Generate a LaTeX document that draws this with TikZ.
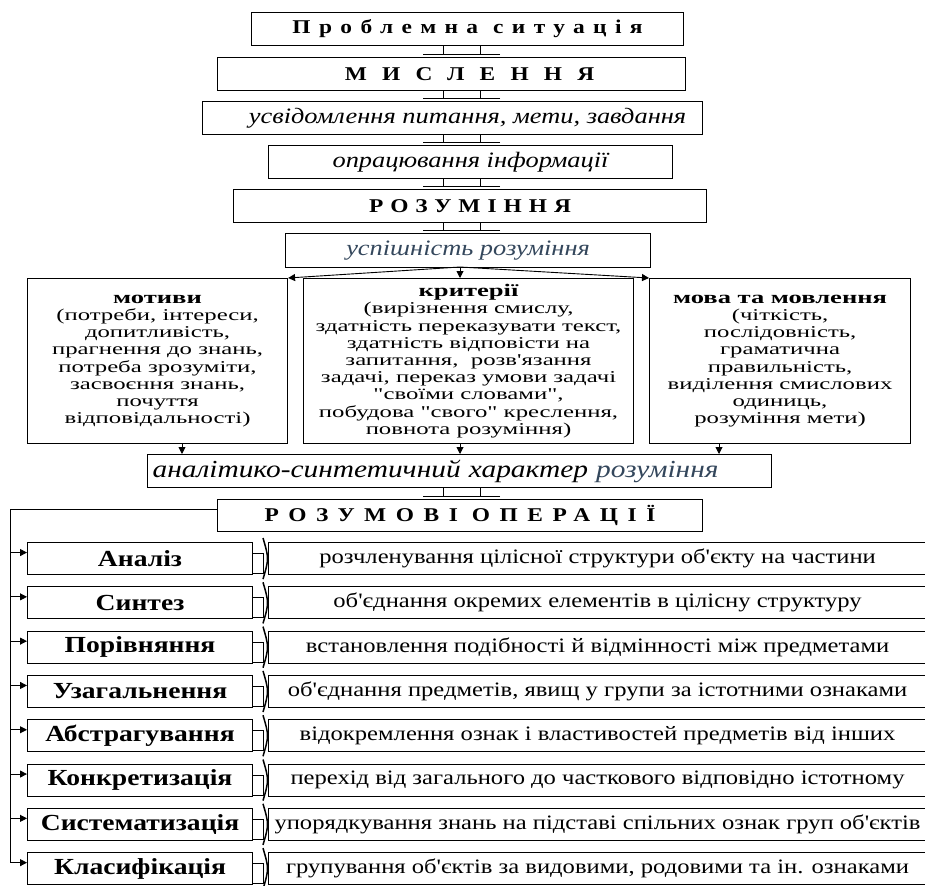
\documentclass[tikz,border=0pt]{standalone}
\usepackage{fontspec}
\setmainfont{Liberation Serif}[FakeStretch=1.2,Ligatures=TeXOff]
\newfontfamily\colfont{Liberation Serif}[FakeStretch=1.5,Ligatures=TeXOff]
\usepackage{tikz}
\usepackage{xcolor}
\usetikzlibrary{arrows.meta,positioning,calc}
\definecolor{slatetext}{HTML}{34475C}

\tikzset{
  box/.style={draw,line width=1.1pt,inner sep=0pt,anchor=north west,align=center,
    font=\fontsize{20.5}{17.2}\selectfont},
  column/.style={box,minimum height=165,font=\colfont\fontsize{16.5}{17.2}\selectfont},
  title/.style={font=\fontsize{19.5}{19}\selectfont},
  ital/.style={font=\fontsize{22}{20}\selectfont\itshape},
  oplabel/.style={box,minimum width=225,minimum height=32,font=\fontsize{23}{23}\selectfont\bfseries},
  arr/.style={-{Triangle[length=7pt,width=7pt]},line width=0.9pt},
  tee/.style={-{Bar[width=40pt,line width=1pt]},line width=1pt,shorten >=2pt},
}
\newcommand{\spreadbold}[1]{\bfseries\addfontfeatures{LetterSpace=#1}}
\newcommand{\head}[1]{{\fontsize{17.7}{17.2}\selectfont\bfseries #1}}

\begin{document}
\begin{tikzpicture}[x=1pt,y=-1pt]
\useasboundingbox (0,0) rectangle (925,885);
\clip (0,0) rectangle (925,885);
\coordinate (la) at (443,0);
\coordinate (lb) at (480,0);
% central column
\node[box,title,minimum width=432,minimum height=33] (prob) at (251,12) {\spreadbold{43}Проблемна\hspace{15pt}ситуація};
\node[box,title,minimum width=468,minimum height=33] (mysl) at (217,57) {\hspace*{36pt}\spreadbold{78}МИСЛЕННЯ};
\node[box,ital,minimum width=500,minimum height=33] (usv) at (202,101) {\hspace*{30pt}усвідомлення питання, мети, завдання};
\node[box,ital,minimum width=404,minimum height=33] (opr) at (268,145) {опрацювання інформації};
\node[box,title,minimum width=473,minimum height=33] (rozum) at (233,189) {\spreadbold{36}РОЗУМІННЯ};
\node[box,ital,minimum width=365,minimum height=34] (usp) at (285,233) {\color{slatetext}успішність розуміння};
% three columns
\node[column,minimum width=260] (motyvy) at (27,278)
  {\head{мотиви}\\(потреби, інтереси,\\допитливість,\\прагнення до знань,\\потреба зрозуміти,\\засвоєння знань,\\почуття\\відповідальності)};
\node[column,minimum width=330] (kryt) at (303,278)
  {\head{критерії}\\(вирізнення смислу,\\здатність переказувати текст,\\здатність відповісти на\\запитання,\ \ розв'язання\\задачі, переказ умови задачі\\"своїми словами",\\побудова "свого" креслення,\\повнота розуміння)};
\node[column,minimum width=261] (mova) at (649,278)
  {\head{мова та мовлення}\\(чіткість,\\послідовність,\\граматична\\правильність,\\виділення смислових\\одиниць,\\розуміння мети)};
\node[box,minimum width=624,minimum height=33,text width=614,align=left,font=\fontsize{24.5}{22}\selectfont\itshape] (anal) at (147,454)
  {аналітико-синтетичний характер {\color{slatetext}розуміння}};
\node[box,title,minimum width=485,minimum height=32] (rozop) at (217,499) {\spreadbold{49}РОЗУМОВІ\hspace{14pt}ОПЕРАЦІЇ};

% double links
\foreach \a/\b in {prob/mysl,mysl/usv,usv/opr,opr/rozum,rozum/usp,anal/rozop} {
  \draw[tee] (\a.south -| la) -- (\b.north -| la);
  \draw[tee] (\a.south -| lb) -- (\b.north -| lb);
}
% split to the columns
\coordinate (split) at (460,267);
\draw[arr] (split) -- (motyvy.north east);
\draw[arr] (split) -- (mova.north west);
\draw[arr] (split) -- (split |- kryt.north);
\coordinate (ma) at (182,0);
\coordinate (ka) at (460,0);
\coordinate (va) at (719,0);
\draw[arr] (motyvy.south -| ma) -- (anal.north -| ma);
\draw[arr] (kryt.south -| ka) -- (anal.north -| ka);
\draw[arr] (mova.south -| va) -- (anal.north -| va);

% operations
\coordinate (trunk) at (10,0);
\foreach \i/\opname/\optext in {
  1/Аналіз/розчленування цілісної структури об'єкту на частини,
  2/Синтез/об'єднання окремих елементів в цілісну структуру,
  3/Порівняння/встановлення подібності й відмінності між предметами,
  4/Узагальнення/{об'єднання предметів, явищ у групи за істотними ознаками},
  5/Абстрагування/відокремлення ознак і властивостей предметів від інших,
  6/Конкретизація/перехід від загального до часткового відповідно істотному,
  7/Систематизація/упорядкування знань на підставі спільних ознак груп об'єктів,
  8/Класифікація/{групування об'єктів за видовими, родовими та ін. ознаками}} {
  \node[oplabel] (op\i) at (27,{542+44.3*(\i-1)}) {\opname};
  \node[box,minimum width=658,minimum height=32] (def\i) at (268,{542+44.3*(\i-1)}) {\optext};
  \draw[line width=0.8pt] ($(op\i.east)+(0,-5)$) -| ($(op\i.east)+(10,15)$) -- ($(op\i.east)+(0,15)$);
  \draw[line width=1.5pt] ($(def\i.north west)+(-5,-4)$) .. controls ($(def\i.west)+(1,0)$) .. ($(def\i.south west)+(-5,4)$);
  \coordinate (hook\i) at ($(op\i.west)+(0,-6)$);
  \draw[arr] (trunk |- hook\i) -- (hook\i);
}
\draw[line width=0.9pt] ($(rozop.west)+(0,-6)$) -| (trunk |- hook8);
\end{tikzpicture}
\end{document}
